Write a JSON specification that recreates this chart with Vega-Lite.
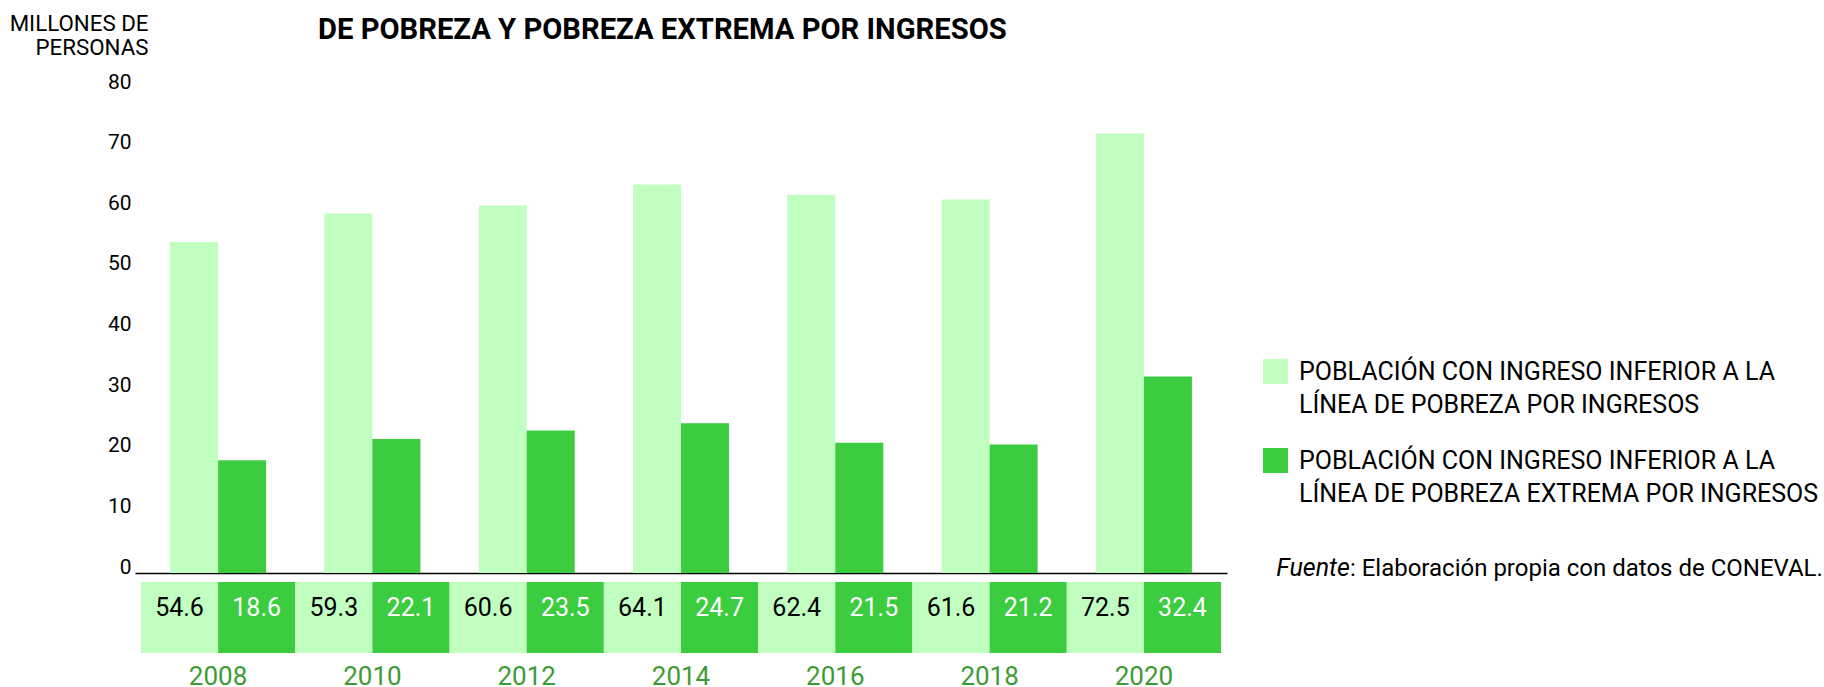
{
  "$schema": "https://vega.github.io/schema/vega-lite/v6.json",
  "background": "white",
  "padding": {"left": 9, "top": 12, "right": 0, "bottom": 0},
  "bounds": "flush",
  "spacing": 9,
  "resolve": {"scale": {"x": "independent", "xOffset": "independent"}},
  "config": {"view": {"stroke": null}, "font": "Roboto"},
  "title": {
    "text": "DE POBREZA Y POBREZA EXTREMA POR INGRESOS",
    "anchor": "start",
    "frame": "group",
    "font": "Roboto",
    "fontSize": 29.2,
    "fontWeight": "bold",
    "color": "#000000",
    "offset": 0,
    "dx": 183,
    "dy": 33
  },
  "datasets": {
    "pobreza": [
      {"year": "2008", "series": "POBLACIÓN CON INGRESO INFERIOR A LA LÍNEA DE POBREZA POR INGRESOS", "value": 54.6},
      {"year": "2008", "series": "POBLACIÓN CON INGRESO INFERIOR A LA LÍNEA DE POBREZA EXTREMA POR INGRESOS", "value": 18.6},
      {"year": "2010", "series": "POBLACIÓN CON INGRESO INFERIOR A LA LÍNEA DE POBREZA POR INGRESOS", "value": 59.3},
      {"year": "2010", "series": "POBLACIÓN CON INGRESO INFERIOR A LA LÍNEA DE POBREZA EXTREMA POR INGRESOS", "value": 22.1},
      {"year": "2012", "series": "POBLACIÓN CON INGRESO INFERIOR A LA LÍNEA DE POBREZA POR INGRESOS", "value": 60.6},
      {"year": "2012", "series": "POBLACIÓN CON INGRESO INFERIOR A LA LÍNEA DE POBREZA EXTREMA POR INGRESOS", "value": 23.5},
      {"year": "2014", "series": "POBLACIÓN CON INGRESO INFERIOR A LA LÍNEA DE POBREZA POR INGRESOS", "value": 64.1},
      {"year": "2014", "series": "POBLACIÓN CON INGRESO INFERIOR A LA LÍNEA DE POBREZA EXTREMA POR INGRESOS", "value": 24.7},
      {"year": "2016", "series": "POBLACIÓN CON INGRESO INFERIOR A LA LÍNEA DE POBREZA POR INGRESOS", "value": 62.4},
      {"year": "2016", "series": "POBLACIÓN CON INGRESO INFERIOR A LA LÍNEA DE POBREZA EXTREMA POR INGRESOS", "value": 21.5},
      {"year": "2018", "series": "POBLACIÓN CON INGRESO INFERIOR A LA LÍNEA DE POBREZA POR INGRESOS", "value": 61.6},
      {"year": "2018", "series": "POBLACIÓN CON INGRESO INFERIOR A LA LÍNEA DE POBREZA EXTREMA POR INGRESOS", "value": 21.2},
      {"year": "2020", "series": "POBLACIÓN CON INGRESO INFERIOR A LA LÍNEA DE POBREZA POR INGRESOS", "value": 72.5},
      {"year": "2020", "series": "POBLACIÓN CON INGRESO INFERIOR A LA LÍNEA DE POBREZA EXTREMA POR INGRESOS", "value": 32.4}
    ]
  },
  "vconcat": [
    {
      "width": 1092,
      "height": 485,
      "layer": [
        {
          "data": {"name": "pobreza"},
          "mark": {"type": "bar"},
          "encoding": {
            "x": {
              "field": "year", "type": "nominal",
              "scale": {"paddingInner": 0, "paddingOuter": 0.0385},
              "axis": {"title": null, "labels": false, "ticks": false, "domain": true, "domainColor": "#000000", "domainWidth": 1.3}
            },
            "xOffset": {
              "field": "series", "type": "nominal",
              "scale": {"paddingInner": 0, "paddingOuter": 0.607, "domain": ["POBLACIÓN CON INGRESO INFERIOR A LA LÍNEA DE POBREZA POR INGRESOS", "POBLACIÓN CON INGRESO INFERIOR A LA LÍNEA DE POBREZA EXTREMA POR INGRESOS"]}
            },
            "y": {
              "field": "value", "type": "quantitative",
              "scale": {"domain": [0, 80], "nice": false},
              "axis": {
                "values": [0, 10, 20, 30, 40, 50, 60, 70, 80],
                "title": ["MILLONES DE", "PERSONAS"],
                "titleAngle": 0, "titleAlign": "right", "titleBaseline": "alphabetic",
                "titleX": 13, "titleY": -58, "titleFontSize": 22.3, "titleFontWeight": "normal",
                "titleLineHeight": 24, "titleColor": "#000000", "titleFont": "Roboto",
                "domain": false, "ticks": false, "grid": false,
                "labelFontSize": 21, "labelColor": "#000000", "labelPadding": 4,
                "labelBaseline": "alphabetic", "labelOffset": 0, "labelFont": "Roboto"
              }
            },
            "color": {
              "field": "series", "type": "nominal",
              "scale": {
                "domain": ["POBLACIÓN CON INGRESO INFERIOR A LA LÍNEA DE POBREZA POR INGRESOS", "POBLACIÓN CON INGRESO INFERIOR A LA LÍNEA DE POBREZA EXTREMA POR INGRESOS"],
                "range": ["#c0ffc0", "#3bcc3f"]
              },
              "legend": {
                "orient": "none", "legendX": 1128, "legendY": 271,
                "title": null, "padding": 0,
                "symbolType": "square", "symbolSize": 625, "symbolStrokeWidth": 0, "symbolOpacity": 1,
                "labelFontSize": 25, "labelLimit": 1000, "labelColor": "#000000",
                "labelOffset": 11, "labelBaseline": "alphabetic", "labelFont": "Roboto",
                "labelExpr": "split(replace(datum.label, ' A LA ', ' A LA|'), '|')",
                "rowPadding": 30,
                "encode": {"labels": {"update": {"dy": {"value": 8}, "lineHeight": {"value": 33}}}}
              }
            }
          }
        },
        {
          "data": {"values": [{"t": "Fuente"}]},
          "mark": {"type": "text", "align": "right", "baseline": "alphabetic", "fontSize": 25, "fontStyle": "italic", "font": "Roboto", "color": "#000000", "dx": 206, "dy": 3},
          "encoding": {
            "x": {"datum": "2020"},
            "y": {"datum": 0},
            "text": {"field": "t"}
          }
        },
        {
          "data": {"values": [{"t": ": Elaboración propia con datos de CONEVAL."}]},
          "mark": {"type": "text", "align": "left", "baseline": "alphabetic", "fontSize": 24, "font": "Roboto", "color": "#000000", "dx": 206, "dy": 3},
          "encoding": {
            "x": {"datum": "2020"},
            "y": {"datum": 0},
            "text": {"field": "t"}
          }
        }
      ]
    },
    {
      "width": 1092,
      "height": 71,
      "data": {"name": "pobreza"},
      "encoding": {
        "x": {
          "field": "year", "type": "nominal",
          "scale": {"paddingInner": 0, "paddingOuter": 0.0385},
          "axis": {"title": null, "domain": false, "ticks": false, "labelAngle": 0,
                   "labelFontSize": 26, "labelColor": "#3d9b35", "labelPadding": 10,
                   "labelBaseline": "top", "labelFont": "Roboto"}
        },
        "xOffset": {
          "field": "series", "type": "nominal",
          "scale": {"paddingInner": 0, "paddingOuter": 0, "domain": ["POBLACIÓN CON INGRESO INFERIOR A LA LÍNEA DE POBREZA POR INGRESOS", "POBLACIÓN CON INGRESO INFERIOR A LA LÍNEA DE POBREZA EXTREMA POR INGRESOS"]}
        }
      },
      "layer": [
        {
          "mark": {"type": "bar"},
          "encoding": {
            "color": {"field": "series", "type": "nominal", "legend": null}
          }
        },
        {
          "mark": {"type": "text", "fontSize": 25, "baseline": "alphabetic", "dy": -1.5, "font": "Roboto"},
          "encoding": {
            "text": {"field": "value", "type": "quantitative", "format": ".1f"},
            "color": {
              "condition": {"test": "datum.series === 'POBLACIÓN CON INGRESO INFERIOR A LA LÍNEA DE POBREZA EXTREMA POR INGRESOS'", "value": "#ffffff"},
              "value": "#000000"
            }
          }
        }
      ]
    }
  ]
}
